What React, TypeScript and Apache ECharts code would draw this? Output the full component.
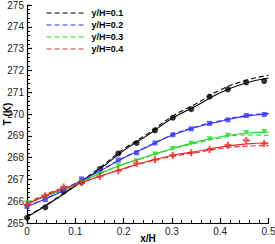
import React, { useEffect, useRef } from "react";
import * as echarts from "echarts";

const seriesNames = ["y/H=0.1", "y/H=0.2", "y/H=0.3", "y/H=0.4"];
const colors = ["#000000", "#3535f5", "#2bd42b", "#e82828"];
const xTitle = "x/H";
const yTitle = "T (K)";

// measured points (markers)
const markerX = [0, 0.038, 0.076, 0.113, 0.151, 0.189, 0.227, 0.265, 0.302, 0.34, 0.378, 0.416, 0.454, 0.491];
const markers01 = [265.24, 265.72, 266.45, 266.87, 267.48, 268.19, 268.67, 269.25, 269.83, 270.22, 270.8, 271.13, 271.45, 271.51];
const markers02 = [265.76, 266.07, 266.52, 267.02, 267.39, 267.89, 268.22, 268.67, 269.05, 269.32, 269.57, 269.73, 269.93, 269.98];
const markers03 = [265.92, 266.19, 266.57, 266.87, 267.28, 267.63, 267.86, 268.17, 268.42, 268.66, 268.86, 269.02, 269.15, 269.2];
const markers04 = [265.84, 266.25, 266.65, 266.85, 267.13, 267.4, 267.74, 267.9, 268.11, 268.22, 268.37, 268.57, 268.79, 268.65];

// curves
const lineX = [0, 0.05, 0.1, 0.15, 0.2, 0.25, 0.3, 0.35, 0.4, 0.45, 0.5];
const solid01 = [265.27, 265.95, 266.7, 267.46, 268.32, 269.03, 269.79, 270.37, 270.98, 271.4, 271.65];
const dashed01 = [265.3, 265.98, 266.74, 267.52, 268.39, 269.1, 269.88, 270.47, 271.1, 271.52, 271.78];
const solid02 = [265.76, 266.21, 266.8, 267.37, 267.98, 268.5, 269.02, 269.39, 269.66, 269.89, 270.0];
const dashed02 = [265.78, 266.23, 266.82, 267.39, 268.0, 268.52, 269.04, 269.41, 269.69, 269.92, 270.03];
const solid03 = [265.92, 266.31, 266.76, 267.26, 267.7, 268.06, 268.41, 268.71, 268.96, 269.12, 269.17];
const dashed03 = [265.95, 266.34, 266.78, 267.26, 267.69, 268.04, 268.38, 268.66, 268.9, 269.04, 269.02];
const solid04 = [265.84, 266.37, 266.74, 267.13, 267.5, 267.83, 268.1, 268.28, 268.48, 268.62, 268.67];
const dashed04 = [265.9, 266.42, 266.77, 267.14, 267.49, 267.8, 268.05, 268.23, 268.42, 268.52, 268.55];

const xTicks = { min: 0, max: 0.5, interval: 0.1 };
const yTicks = { min: 265, max: 275, interval: 1 };

const markerSets = [markers01, markers02, markers03, markers04];
const solidSets = [solid01, solid02, solid03, solid04];
const dashedSets = [dashed01, dashed02, dashed03, dashed04];
const symbols = [
  "circle",
  "rect",
  "path://M0,0 L10,0 L5,9 Z",
  "path://M3.5,0 L6.5,0 L6.5,3.5 L10,3.5 L10,6.5 L6.5,6.5 L6.5,10 L3.5,10 L3.5,6.5 L0,6.5 L0,3.5 L3.5,3.5 Z",
];
const symbolSizes = [6, 5, [6, 5], 7];

const zip = (xs: number[], ys: number[]) => xs.map((x, i) => [x, ys[i]]);

export default function App() {
  const ref = useRef<HTMLDivElement>(null);
  useEffect(() => {
    if (!ref.current) return;
    const chart = echarts.init(ref.current, undefined, { renderer: "svg" });
    const font = "Liberation Sans";
    const series: any[] = [];
    for (let k = 0; k < 4; k++) {
      series.push({
        name: seriesNames[k],
        type: "line",
        data: zip(lineX, dashedSets[k]),
        smooth: true,
        symbol: "none",
        showSymbol: false,
        lineStyle: { color: colors[k], width: 1.1, type: [5, 3] },
        itemStyle: { color: colors[k] },
        z: 2,
      });
    }
    for (let k = 0; k < 4; k++) {
      series.push({
        name: "solid " + seriesNames[k],
        type: "line",
        data: zip(lineX, solidSets[k]),
        smooth: true,
        symbol: "none",
        showSymbol: false,
        lineStyle: { color: colors[k], width: 1.1 },
        itemStyle: { color: colors[k] },
        z: 3,
      });
    }
    for (let k = 0; k < 4; k++) {
      series.push({
        name: "exp " + seriesNames[k],
        type: "scatter",
        data: zip(markerX, markerSets[k]),
        symbol: symbols[k],
        symbolSize: symbolSizes[k],
        itemStyle: { color: colors[k] },
        z: 4,
      });
    }
    chart.setOption({
      animation: false,
      grid: { left: 27, right: 6.5, top: 5, bottom: 21, containLabel: false, outerBoundsMode: "none" },
      legend: {
        data: seriesNames,
        orient: "vertical",
        left: 46,
        top: 8,
        itemWidth: 40,
        itemHeight: 8,
        itemGap: 2,
        padding: 0,
        itemStyle: { opacity: 0 },
        lineStyle: { width: 1.1 },
        textStyle: { fontFamily: font, fontSize: 9, fontWeight: "bold", color: "#000", lineHeight: 10 },
      },
      graphic: [
        {
          type: "text",
          x: 148,
          y: 238.5,
          style: {
            text: xTitle,
            fontFamily: font,
            fontSize: 10,
            fontWeight: "bold",
            fill: "#000",
            align: "center",
            verticalAlign: "middle",
          },
        },
        {
          type: "text",
          x: 7.5,
          y: 114,
          rotation: Math.PI / 2,
          style: {
            text: yTitle,
            fontFamily: font,
            fontSize: 10,
            fontWeight: "bold",
            fill: "#000",
            align: "center",
            verticalAlign: "middle",
          },
        },
      ],
      xAxis: {
        type: "value",
        ...xTicks,
        axisLine: { show: true, onZero: false, lineStyle: { color: "#000", width: 1.2 } },
        axisTick: { show: true, inside: true, length: 5, lineStyle: { color: "#000", width: 1.2 } },
        minorTick: { show: true, splitNumber: 5, length: 3, lineStyle: { color: "#000", width: 1 } },
        axisLabel: { fontFamily: font, fontSize: 10, color: "#222", margin: 3 },
        splitLine: { show: false },
      },
      yAxis: {
        type: "value",
        ...yTicks,
        axisLine: { show: true, onZero: false, lineStyle: { color: "#000", width: 1.2 } },
        axisTick: { show: true, inside: true, length: 5, lineStyle: { color: "#000", width: 1.2 } },
        minorTick: { show: true, splitNumber: 5, length: 3, lineStyle: { color: "#000", width: 1 } },
        axisLabel: { fontFamily: font, fontSize: 10, color: "#222", margin: 3 },
        splitLine: { show: false },
      },
      series,
    });
    return () => chart.dispose();
  }, []);
  return (
    <div
      ref={ref}
      style={{ position: "fixed", left: 0, top: 0, width: 275, height: 244, background: "#fff" }}
    />
  );
}
